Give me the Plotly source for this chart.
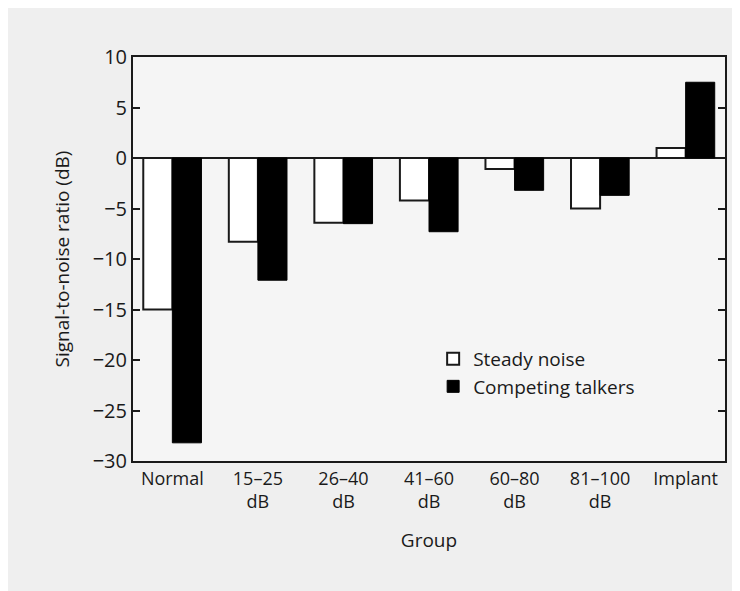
import plotly.graph_objects as go

groups = ["Normal", "15–25<br>dB", "26–40<br>dB", "41–60<br>dB", "60–80<br>dB", "81–100<br>dB", "Implant"]
steady_noise = [-15.0, -8.3, -6.4, -4.2, -1.1, -5.0, 1.0]
competing_talkers = [-28.2, -12.1, -6.5, -7.3, -3.2, -3.7, 7.5]
y_ticks = [-30, -25, -20, -15, -10, -5, 0, 5, 10]

font_family = "Open Sans, Noto Sans, sans-serif"
ink = "#1a1a1a"

fig = go.Figure()
fig.add_trace(go.Bar(
    x=groups, y=steady_noise, name="Steady noise",
    marker=dict(color="white", line=dict(color=ink, width=2)),
))
fig.add_trace(go.Bar(
    x=groups, y=competing_talkers, name="Competing talkers",
    marker=dict(color="black", line=dict(color="black", width=1)),
))

fig.update_layout(
    width=732, height=583,
    barmode="group", bargap=0.32, bargroupgap=0,
    paper_bgcolor="#efefef", plot_bgcolor="#f5f5f5",
    margin=dict(l=125, r=15, t=49, b=130),
    font=dict(family=font_family, size=19, color=ink),
    legend=dict(
        x=0.507, y=0.30, xanchor="left", yanchor="top",
        bgcolor="rgba(0,0,0,0)", font=dict(size=19, color=ink),
        tracegroupgap=0,
    ),
    xaxis=dict(
        title=dict(text="Group", standoff=22, font=dict(size=19)),
        showline=True, linecolor=ink, linewidth=2, mirror=True,
        ticks="", showgrid=False, range=[-0.46, 6.46],
        tickfont=dict(size=18),
    ),
    yaxis=dict(
        title=dict(text="Signal-to-noise ratio (dB)", standoff=18, font=dict(size=19)),
        range=[-30, 10], tickvals=y_ticks,
        showline=True, linecolor=ink, linewidth=2, mirror="ticks",
        ticks="inside", ticklen=7, tickwidth=1.5, tickcolor=ink,
        showgrid=False, zeroline=True, zerolinecolor=ink, zerolinewidth=2,
        tickfont=dict(size=20),
    ),
)

fig.write_html("out.html")
